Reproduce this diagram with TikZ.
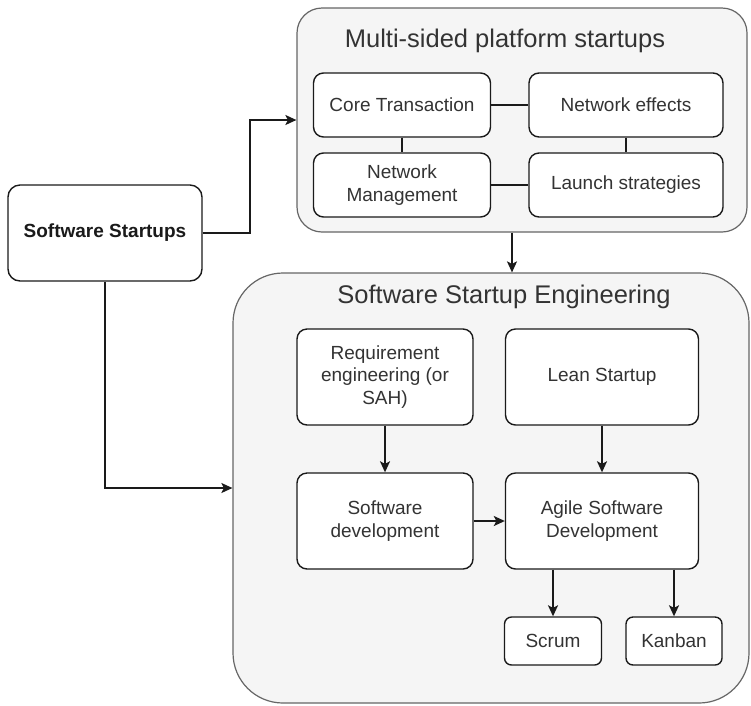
\documentclass[tikz,border=0pt]{standalone}
\usepackage{fontspec}
\setmainfont{Liberation Sans}
\usetikzlibrary{arrows.meta}
\definecolor{contfill}{HTML}{F5F5F5}
\definecolor{contline}{HTML}{666666}
\definecolor{txt}{HTML}{333333}
\definecolor{ink}{HTML}{1A1A1A}
\begin{document}
\begin{tikzpicture}[x=1pt,y=-1pt,
  container/.style={draw=contline, fill=contfill, line width=1.2pt, rounded corners=#1, inner sep=0pt},
  boxtitle/.style={text=txt, font=\fontsize{25.5}{30}\selectfont, inner sep=0pt},
  box/.style={draw=ink, fill=white, line width=1.4pt, rounded corners=#1, align=center, text=txt,
    font=\fontsize{19}{22.5}\selectfont, inner sep=0pt},
  box/.default=10pt,
  link/.style={line width=1.6pt, draw=ink},
  arr/.style={link, -{Stealth[length=11pt,width=10pt,inset=2.5pt]}}]
\useasboundingbox (0,0) rectangle (751,705);
% containers
\node[container=25pt, minimum width=450pt, minimum height=224pt] (msp) at (522,120) {};
\node[boxtitle] (msptitle) at (505,41) {Multi-sided platform startups};
\node[container=50pt, minimum width=516pt, minimum height=430pt] (sse) at (491,488) {};
\node[boxtitle] (ssetitle) at (504,297) {Software Startup Engineering};
% left box
\node[box=12pt, minimum width=194pt, minimum height=96pt, font=\fontsize{19}{22.5}\selectfont\bfseries, text=ink] (ss) at (105,233) {Software Startups};
% platform boxes
\node[box, minimum width=177pt, minimum height=64pt] (core) at (402,105) {Core Transaction};
\node[box, minimum width=194pt, minimum height=64pt] (neteff) at (626,105) {Network effects};
\node[box, minimum width=177pt, minimum height=64pt] (netmgmt) at (402,185) {Network\\Management};
\node[box, minimum width=194pt, minimum height=64pt] (launch) at (626,185) {Launch strategies};
% engineering boxes
\node[box, minimum width=176pt, minimum height=96pt] (req) at (385,377) {Requirement\\engineering (or\\SAH)};
\node[box, minimum width=193pt, minimum height=96pt] (lean) at (602,377) {Lean Startup};
\node[box, minimum width=176pt, minimum height=96pt] (swdev) at (385,521) {Software\\development};
\node[box, minimum width=193pt, minimum height=96pt] (agile) at (602,521) {Agile Software\\Development};
\node[box=7pt, minimum width=97pt, minimum height=48pt] (scrum) at (553,641) {Scrum};
\node[box=7pt, minimum width=96pt, minimum height=48pt] (kanban) at (674,641) {Kanban};
% connectors
\draw[arr] (ss.east) -- ++(47,0) |- (msp.west);
\draw[arr] (ss.south) |- (sse.west);
\draw[arr] ([xshift=-10pt]msp.south) -- ([xshift=-10pt]msp.south |- sse.north);
\draw[link] (core) -- (neteff);
\draw[link] (core) -- (netmgmt);
\draw[link] (neteff) -- (launch);
\draw[link] (netmgmt) -- (launch);
\draw[arr] (req) -- (swdev);
\draw[arr] (lean) -- (agile);
\draw[arr] (swdev) -- (agile);
\draw[arr] (agile.south -| scrum.north) -- (scrum.north);
\draw[arr] (agile.south -| kanban.north) -- (kanban.north);
\end{tikzpicture}
\end{document}
